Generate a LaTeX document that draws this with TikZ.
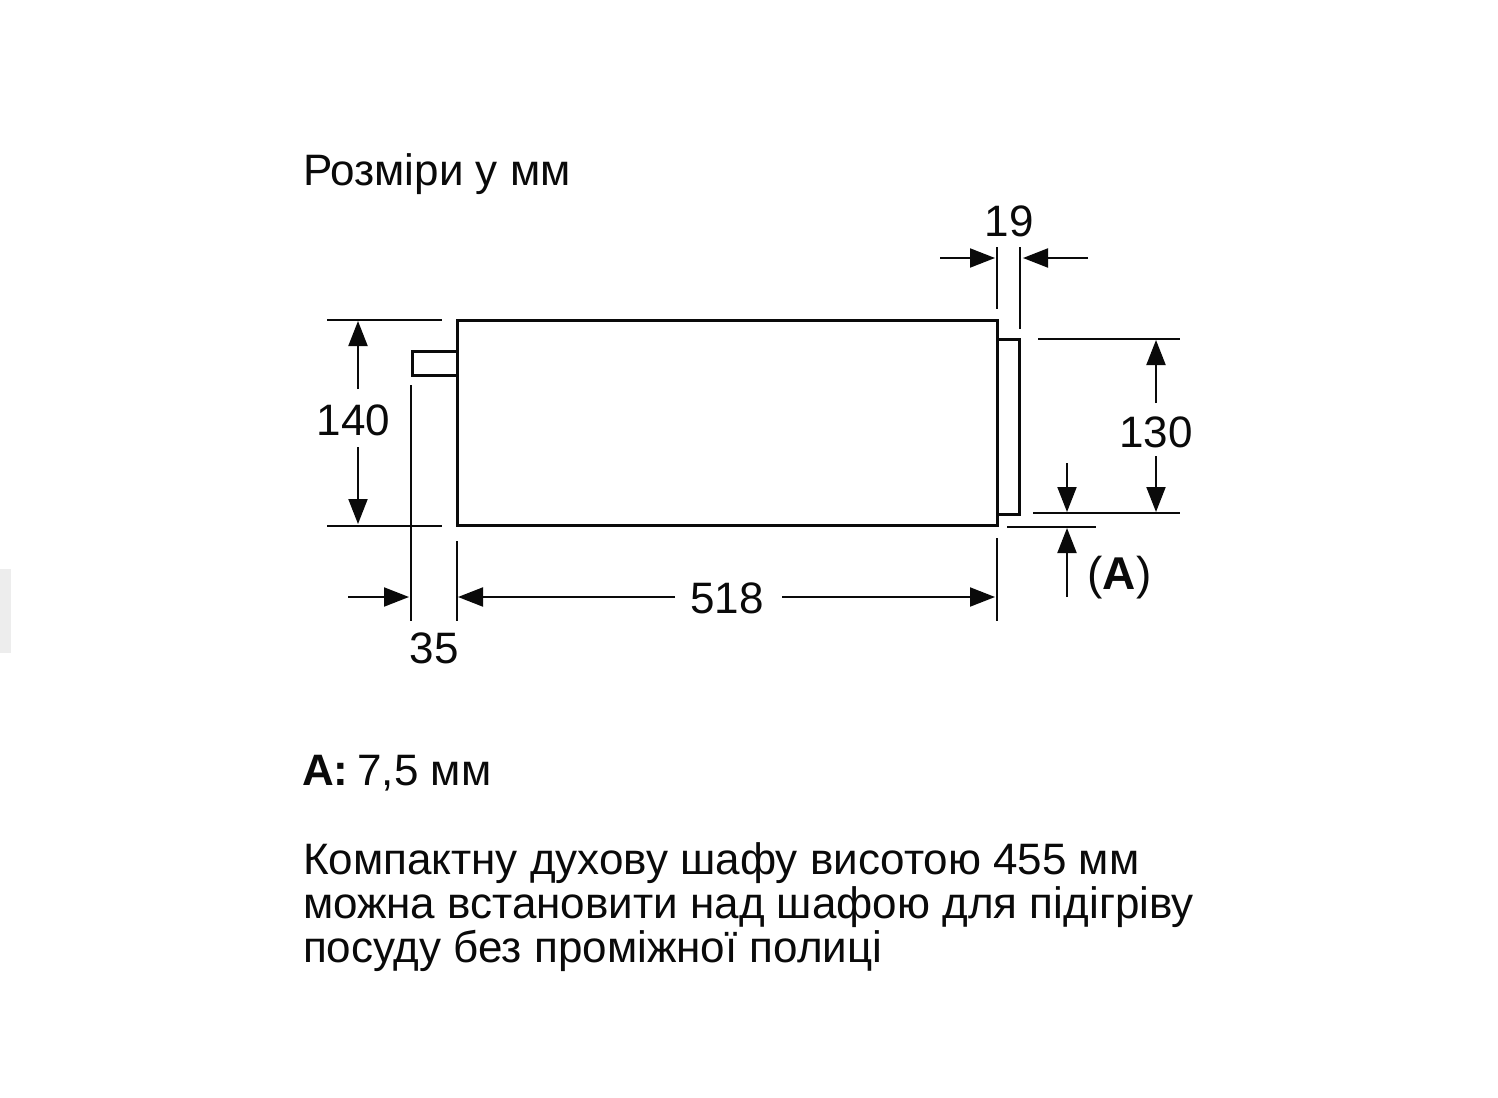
\documentclass[tikz,border=0pt]{standalone}
\usepackage{fontspec}
\setmainfont{Liberation Sans}
\usetikzlibrary{arrows.meta}
\definecolor{inkc}{HTML}{0A0A0A}
\tikzset{
  body/.style={line width=3pt,draw=inkc,line join=miter},
  extline/.style={line width=2pt,draw=inkc},
  dim/.style={line width=2pt,draw=inkc,-{Triangle[length=25pt,width=19pt]}},
  lbl/.style={inner sep=0pt,outer sep=0pt,text=inkc,font=\fontsize{44}{44}\selectfont,anchor=base},
  txt/.style={lbl,anchor=base west,font=\fontsize{44}{44}\selectfont}
}
\begin{document}
\begin{tikzpicture}[x=1pt,y=-1pt]
\useasboundingbox (0,0) rectangle (1498,1097);
\fill[white] (0,0) rectangle (1498,1097);
\fill[fill=black!7] (0,569) rectangle (11,653);
% body
\draw[body] (457,320) rectangle (997,525);
\draw[body] (457,351) -- (412,351) -- (412,375) -- (457,375);
\draw[body] (997,339.5) -- (1019,339.5) -- (1019,514) -- (997,514);
% extension lines
\draw[extline] (327,320) -- (442,320);
\draw[extline] (327,525.5) -- (442,525.5);
\draw[extline] (410.5,385) -- (410.5,621);
\draw[extline] (456.5,541) -- (456.5,621);
\draw[extline] (996.5,538) -- (996.5,621);
\draw[extline] (997,247) -- (997,309);
\draw[extline] (1020,247) -- (1020,329);
\draw[extline] (1038,339) -- (1180,339);
\draw[extline] (1033,513) -- (1180,513);
\draw[extline] (1007,526.5) -- (1096,526.5);
% dimension arrows
\draw[dim] (358,389) -- (358,321);
\draw[dim] (358,447) -- (358,524);
\draw[dim] (348,597) -- (409,597);
\draw[dim] (675,597) -- (458,597);
\draw[dim] (782,597) -- (995,597);
\draw[dim] (940,258) -- (995,258);
\draw[dim] (1088,258) -- (1023,258);
\draw[dim] (1156,403) -- (1156,340);
\draw[dim] (1156,456) -- (1156,512);
\draw[dim] (1067,463) -- (1067,512);
\draw[dim] (1067,597) -- (1067,528);
% labels
\node[txt] (title) at (303,185) {Розміри у мм};
\node[lbl] (d19) at (1009,236) {19};
\node[lbl] (d140) at (353.5,435) {140};
\node[lbl] (d130) at (1156,447) {130};
\node[lbl] (d518) at (727,613) {518};
\node[lbl] (d35) at (434,663) {35};
\node[lbl,font=\fontsize{46}{46}\selectfont] (dA) at (1119.5,589) {(\textbf{A})};
\node[txt] (noteA) at (302,785) {\textbf{A:}\hspace{9pt}7,5 мм};
\node[txt] (l1) at (303,874) {Компактну духову шафу висотою 455 мм};
\node[txt] (l2) at (303,918) {можна встановити над шафою для підігріву};
\node[txt] (l3) at (303,962) {посуду без проміжної полиці};
\end{tikzpicture}
\end{document}
